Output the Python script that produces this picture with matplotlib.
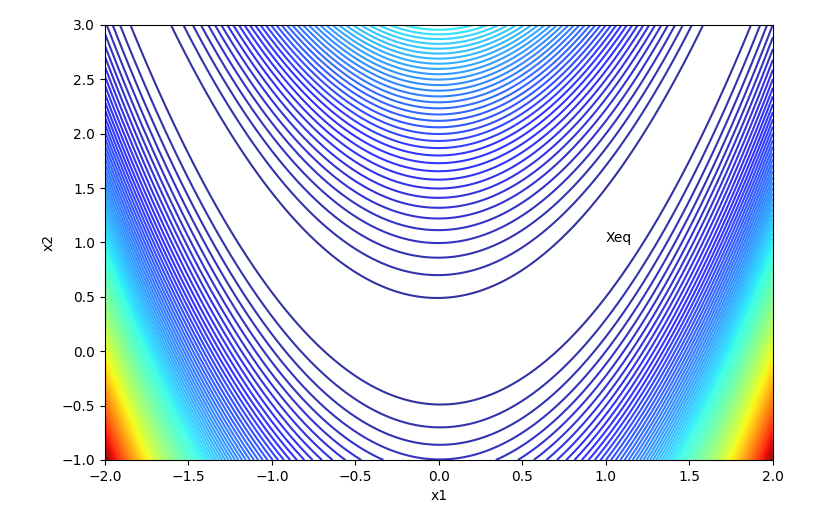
import numpy as np
import matplotlib
matplotlib.use("Agg")
from matplotlib import pyplot as plt

# grid limits and equilibrium point
x1_range = [-2.0, 2.0]
x2_range = [-1.0, 3.0]
x_eq = [1.0, 1.0]
n_levels = 100

x1 = np.linspace(x1_range[0], x1_range[1], 400)
x2 = np.linspace(x2_range[0], x2_range[1], 400)
X1, X2 = np.meshgrid(x1, x2)
# rosenbrock
Z = (1 - X1) ** 2 + 100 * (X2 - X1 ** 2) ** 2

fig = plt.figure(figsize=(8.32, 5.26), dpi=100)
ax = fig.add_axes([0.126, 0.1255, 0.803, 0.827])
ax.contour(X1, X2, Z, n_levels, cmap='jet', alpha=0.8)
ax.text(x_eq[0], x_eq[1], 'Xeq')
ax.set_xlabel('x1')
ax.set_ylabel('x2')

fig.savefig("out.png")
